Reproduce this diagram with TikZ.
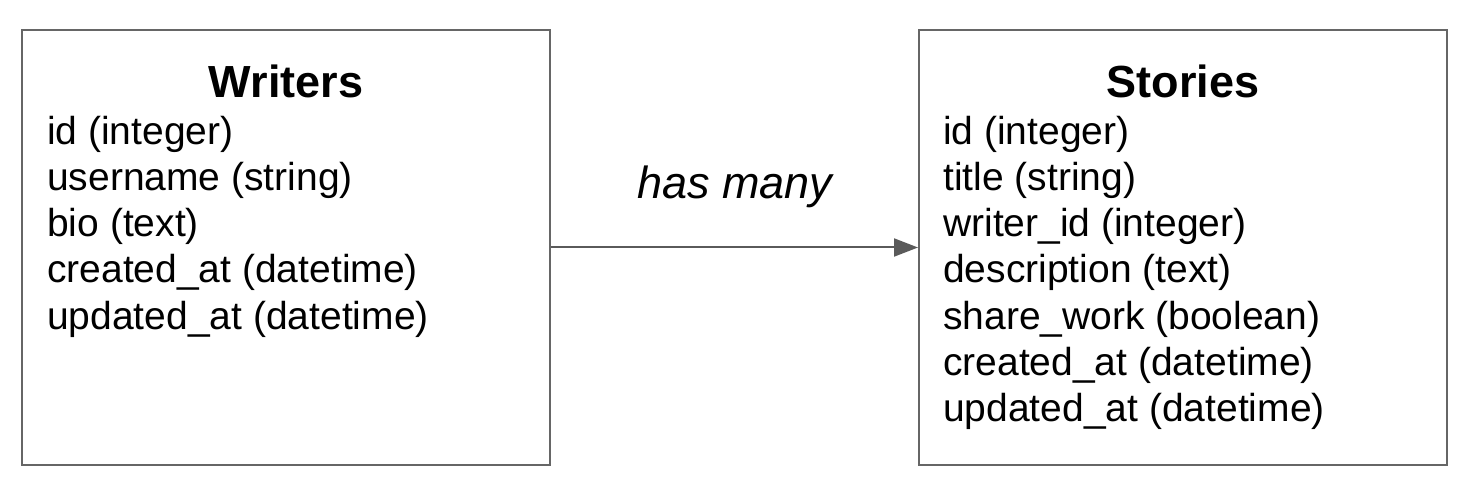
\documentclass[tikz,border=0pt]{standalone}
\usepackage{fontspec}
\setmainfont{Liberation Sans}
\usetikzlibrary{arrows.meta}
\definecolor{boxline}{HTML}{666666}
\definecolor{arrowline}{HTML}{5A5A5A}
\begin{document}
\begin{tikzpicture}[x=1pt,y=1pt,
  tbl/.style={draw=boxline, line width=2pt, rectangle, minimum width=528pt, minimum height=435pt, inner sep=0pt},
  ttl/.style={font=\fontsize{45}{54}\selectfont\bfseries, anchor=base, inner sep=0pt},
  fld/.style={font=\fontsize{39}{46}\selectfont, anchor=base west, inner sep=0pt},
  rel/.style={font=\fontsize{45}{54}\selectfont\itshape, anchor=base, inner sep=0pt},
  conn/.style={draw=arrowline, line width=2pt, -{Triangle[length=24pt,width=18pt]}}]
\useasboundingbox (0,0) rectangle (1468,496);
\fill[white] (0,0) rectangle (1468,496);
\node[tbl] (writers) at (286,248.5) {};
\node[tbl] (stories) at (1183,248.5) {};
\node[ttl] (wt) at (286,398) {Writers};
\node[ttl] (st) at (1183,398) {Stories};
\foreach \t [count=\i] in {id (integer), username (string), bio (text), created\_at (datetime), updated\_at (datetime)}
  \node[fld] (w\i) at (47,{351-(\i-1)*46}) {\t};
\foreach \t [count=\i] in {id (integer), title (string), writer\_id (integer), description (text), share\_work (boolean), created\_at (datetime), updated\_at (datetime)}
  \node[fld] (s\i) at (943,{351-(\i-1)*46}) {\t};
\draw[conn] (writers.east) -- (stories.west);
\node[rel] (hm) at (735,297) {has many};
\end{tikzpicture}
\end{document}
